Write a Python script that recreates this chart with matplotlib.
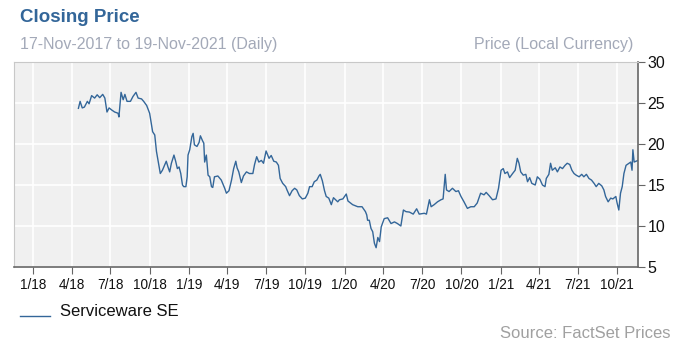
import pandas as pd
import matplotlib
matplotlib.use('Agg')
import matplotlib.pyplot as plt

plt.rcParams['font.family'] = ['Liberation Sans', 'DejaVu Sans']

# traced closing prices (sampled roughly weekly)
dates = [
    "2018-04-17", "2018-04-21", "2018-04-26", "2018-05-01", "2018-05-08", "2018-05-12",
    "2018-05-18", "2018-05-25", "2018-05-31", "2018-06-06", "2018-06-13", "2018-06-18",
    "2018-06-23", "2018-06-28", "2018-07-04", "2018-07-11", "2018-07-19", "2018-07-21",
    "2018-07-26", "2018-07-31", "2018-08-04", "2018-08-09", "2018-08-17", "2018-08-23",
    "2018-08-30", "2018-09-04", "2018-09-12", "2018-09-17", "2018-09-24", "2018-10-01",
    "2018-10-08", "2018-10-13", "2018-10-17", "2018-10-21", "2018-10-26", "2018-10-31",
    "2018-11-05", "2018-11-09", "2018-11-13", "2018-11-17", "2018-11-21", "2018-11-27",
    "2018-12-01", "2018-12-05", "2018-12-09", "2018-12-13", "2018-12-17", "2018-12-20",
    "2018-12-25", "2018-12-28", "2018-12-30", "2019-01-03", "2019-01-08", "2019-01-11",
    "2019-01-14", "2019-01-20", "2019-01-25", "2019-01-28", "2019-02-02", "2019-02-05",
    "2019-02-07", "2019-02-11", "2019-02-15", "2019-02-19", "2019-02-23", "2019-02-26",
    "2019-03-02", "2019-03-10", "2019-03-18", "2019-03-26", "2019-03-30", "2019-04-05",
    "2019-04-11", "2019-04-16", "2019-04-21", "2019-04-24", "2019-04-28", "2019-05-04",
    "2019-05-09", "2019-05-16", "2019-05-23", "2019-05-31", "2019-06-04", "2019-06-09",
    "2019-06-14", "2019-06-20", "2019-06-25", "2019-07-01", "2019-07-08", "2019-07-13",
    "2019-07-19", "2019-07-25", "2019-07-30", "2019-08-03", "2019-08-09", "2019-08-16",
    "2019-08-19", "2019-08-25", "2019-08-31", "2019-09-06", "2019-09-11", "2019-09-17",
    "2019-09-24", "2019-10-01", "2019-10-07", "2019-10-11", "2019-10-17", "2019-10-22",
    "2019-10-28", "2019-11-02", "2019-11-05", "2019-11-10", "2019-11-15", "2019-11-19",
    "2019-11-25", "2019-12-01", "2019-12-06", "2019-12-11", "2019-12-16", "2019-12-20",
    "2019-12-28", "2020-01-05", "2020-01-09", "2020-01-20", "2020-02-01", "2020-02-11",
    "2020-02-19", "2020-02-22", "2020-02-24", "2020-02-28", "2020-03-03", "2020-03-07",
    "2020-03-11", "2020-03-15", "2020-03-19", "2020-03-23", "2020-03-27", "2020-04-03",
    "2020-04-11", "2020-04-19", "2020-04-27", "2020-05-04", "2020-05-12", "2020-05-18",
    "2020-05-24", "2020-06-01", "2020-06-10", "2020-06-18", "2020-06-24", "2020-07-06",
    "2020-07-11", "2020-07-18", "2020-07-22", "2020-07-29", "2020-08-06", "2020-08-14",
    "2020-08-19", "2020-08-24", "2020-08-27", "2020-09-02", "2020-09-10", "2020-09-18",
    "2020-09-24", "2020-09-30", "2020-10-07", "2020-10-15", "2020-10-23", "2020-10-31",
    "2020-11-07", "2020-11-15", "2020-11-23", "2020-11-28", "2020-12-05", "2020-12-13",
    "2020-12-21", "2020-12-27", "2021-01-02", "2021-01-07", "2021-01-11", "2021-01-17",
    "2021-01-22", "2021-01-29", "2021-02-04", "2021-02-09", "2021-02-13", "2021-02-17",
    "2021-02-23", "2021-03-01", "2021-03-05", "2021-03-10", "2021-03-15", "2021-03-23",
    "2021-03-28", "2021-04-03", "2021-04-09", "2021-04-15", "2021-04-18", "2021-04-24",
    "2021-04-28", "2021-05-02", "2021-05-09", "2021-05-14", "2021-05-20", "2021-05-26",
    "2021-06-01", "2021-06-06", "2021-06-12", "2021-06-17", "2021-06-22", "2021-06-27",
    "2021-07-04", "2021-07-10", "2021-07-15", "2021-07-21", "2021-07-27", "2021-08-02",
    "2021-08-08", "2021-08-13", "2021-08-19", "2021-08-26", "2021-08-31", "2021-09-04",
    "2021-09-10", "2021-09-16", "2021-09-21", "2021-09-28", "2021-10-01", "2021-10-05",
    "2021-10-09", "2021-10-13", "2021-10-17", "2021-10-22", "2021-10-29", "2021-11-02",
    "2021-11-05", "2021-11-07", "2021-11-10", "2021-11-19",
]
prices = [
    24.35, 25.2, 24.4, 24.5, 25.2, 24.9,
    25.9, 25.6, 26.0, 25.65, 26.05, 25.6,
    23.9, 24.4, 24.15, 23.9, 23.75, 23.3,
    26.3, 25.4, 26.05, 25.2, 25.2, 25.8,
    26.3, 25.6, 25.5, 25.2, 24.7, 23.75,
    21.5, 21.1, 19.1, 17.9, 16.4, 16.8,
    17.4, 17.9, 17.2, 16.6, 17.65, 18.65,
    17.9, 17.0, 17.2, 16.4, 15.0, 14.8,
    14.8, 16.0, 18.65, 19.3, 20.9, 21.3,
    19.9, 19.7, 20.2, 21.0, 20.4, 20.1,
    17.8, 18.65, 16.2, 16.0, 14.8, 14.7,
    16.0, 16.1, 15.6, 14.6, 14.0, 14.3,
    15.6, 17.0, 17.9, 17.1, 16.6, 15.3,
    16.1, 16.6, 16.4, 16.4, 17.5, 18.45,
    17.8, 18.0, 17.65, 19.15, 18.25, 18.6,
    17.9, 17.8, 17.4, 15.8, 15.2, 14.8,
    14.4, 13.7, 14.3, 14.6, 14.4, 13.7,
    13.3, 13.4, 14.0, 14.8, 14.8, 15.4,
    15.6, 16.1, 16.3, 15.5, 14.3, 13.6,
    13.4, 12.6, 13.45, 13.2, 12.95, 13.2,
    13.3, 13.9, 13.05, 12.6, 12.35, 12.35,
    11.75, 11.35, 10.7, 10.7, 9.7, 9.3,
    7.9, 7.35, 8.6, 8.1, 9.9, 10.9,
    11.0, 10.3, 10.5, 10.3, 10.0, 11.95,
    11.75, 11.7, 11.45, 12.1, 11.45, 11.55,
    11.45, 13.2, 12.35, 12.6, 12.95, 13.2,
    13.3, 16.3, 14.4, 14.2, 14.6, 14.2,
    14.3, 13.6, 12.95, 12.15, 12.35, 12.35,
    12.8, 14.0, 13.8, 14.1, 13.7, 13.2,
    13.3, 14.6, 16.8, 17.0, 16.4, 16.6,
    15.9, 16.4, 16.8, 18.25, 17.65, 16.6,
    16.2, 16.3, 15.4, 15.9, 15.2, 15.0,
    16.0, 15.7, 15.0, 14.8, 15.8, 16.3,
    17.65, 16.8, 17.1, 16.6, 17.2, 17.0,
    17.4, 17.65, 17.5, 16.8, 16.4, 16.2,
    16.0, 16.3, 16.0, 16.3, 15.8, 15.6,
    15.2, 14.8, 15.2, 14.9, 14.4, 13.6,
    12.95, 13.4, 13.3, 13.6, 12.8, 11.95,
    14.0, 14.8, 16.4, 17.4, 17.65, 17.8,
    16.8, 19.3, 17.8, 18.0,
]
series_name = "Serviceware SE"
y_ticks = [5, 10, 15, 20, 25, 30]
x_ticks = ["2018-01-01", "2018-04-01", "2018-07-01", "2018-10-01",
           "2019-01-01", "2019-04-01", "2019-07-01", "2019-10-01",
           "2020-01-01", "2020-04-01", "2020-07-01", "2020-10-01",
           "2021-01-01", "2021-04-01", "2021-07-01", "2021-10-01"]

df = pd.DataFrame({"date": pd.to_datetime(dates), "price": prices})

fig = plt.figure(figsize=(6.79, 3.54), dpi=100)
ax = fig.add_axes([14/679, 1 - 267/354, 624/679, 205/354])
ax.set_facecolor("#f0f0f0")

line_col = "#336699"
ax.plot(df["date"], df["price"], color=line_col, lw=1.0)

ax.set_xlim(pd.Timestamp("2017-11-17"), pd.Timestamp("2021-11-19"))
ax.set_ylim(5, 30)

xt = pd.to_datetime(x_ticks)
ax.set_xticks(xt)
ax.set_xticklabels([f"{d.month}/{d.strftime('%y')}" for d in xt])
ax.set_yticks(y_ticks)
ax.yaxis.tick_right()
ax.grid(True, color="white", lw=1.2)
ax.set_axisbelow(True)

for s in ["top", "left"]:
    ax.spines[s].set_color("#c8c8c8")
for s in ["bottom", "right"]:
    ax.spines[s].set_color("#666666")
    ax.spines[s].set_linewidth(1.2)
ax.tick_params(axis="x", length=5, color="#666666", labelsize=9.8, pad=3, labelcolor="#111111")
ax.tick_params(axis="y", length=5, color="#666666", labelsize=11.5, pad=2, labelcolor="#111111")

# header texts
fig.text(20/679, 1 - 18/354, "Closing Price", fontsize=13.5, fontweight="bold",
         color="#336699", va="center", ha="left")
fig.text(20/679, 1 - 44/354, "17-Nov-2017 to 19-Nov-2021 (Daily)", fontsize=11.5,
         color="#a3a9b8", va="center", ha="left")
fig.text(633/679, 1 - 44/354, "Price (Local Currency)", fontsize=11.5,
         color="#a3a9b8", va="center", ha="right")

# legend and source
fig.add_artist(plt.Line2D([20/679, 50/679], [1 - 316/354, 1 - 316/354], color=line_col, lw=1.0))
fig.text(60/679, 1 - 312/354, series_name, fontsize=12, color="#111111", va="center", ha="left")
fig.text(670/679, 1 - 333/354, "Source: FactSet Prices", fontsize=12,
         color="#a0a0a0", va="center", ha="right")

fig.savefig("out.png", dpi=100)
